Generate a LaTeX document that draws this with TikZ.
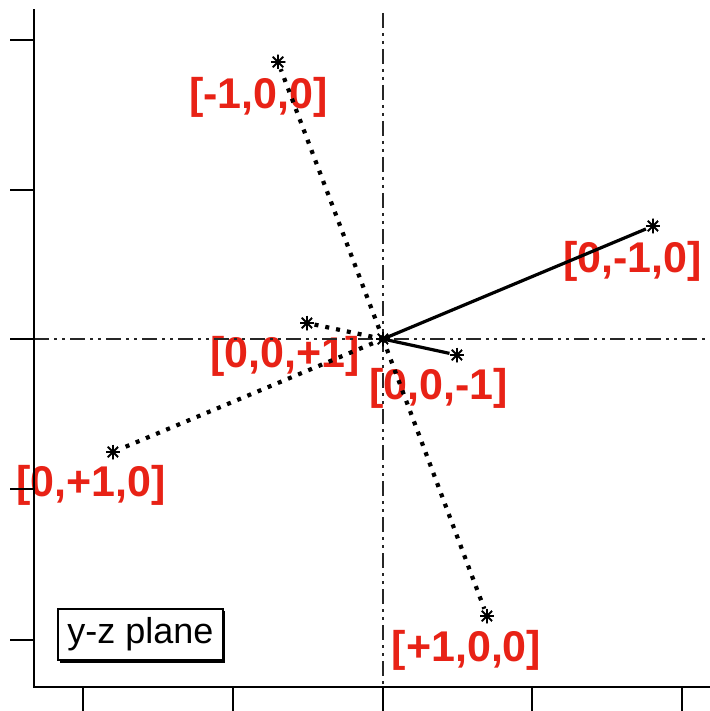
\documentclass[tikz,border=0pt]{standalone}
\usepackage{fontspec}
\setmainfont{Liberation Sans}
\definecolor{lblred}{RGB}{232,34,22}
\begin{document}
\begin{tikzpicture}[x=1pt,y=-1pt,
  axisline/.style={line width=2pt, line cap=rect},
  guide/.style={line width=1.8pt, black!85, dash pattern=on 15pt off 5pt on 3pt off 5pt on 3pt off 5pt},
  solidray/.style={line width=3.2pt},
  dotray/.style={line width=4.2pt, dash pattern=on 4pt off 7pt},
  lbl/.style={text=lblred, font=\fontsize{43}{43}\selectfont\bfseries, inner sep=0pt, anchor=base},
  starmark/.style={circle, inner sep=0pt, minimum size=15pt,
    path picture={\foreach \a in {0,45,90,135}{
      \draw[line width=1.8pt] ([shift={(\a:7.5pt)}]path picture bounding box.center) -- ([shift={(\a+180:7.5pt)}]path picture bounding box.center);}}},
  legendbox/.style={draw, line width=1.4pt, fill=white, minimum width=165pt, minimum height=51pt,
    font=\fontsize{36}{36}\selectfont, text height=27pt, text depth=9pt, inner sep=0pt}
]
\useasboundingbox (0,0) rectangle (709,711);
\fill[white] (0,0) rectangle (709,711);

% labels (drawn first, lines pass over them)
\node[lbl] (lm100) at (258.5,109) {[-1,0,0]};
\node[lbl] (lm010) at (632.5,272) {[0,-1,0]};
\node[lbl] (lp001) at (285,367) {[0,0,+1]};
\node[lbl] (lm001) at (438.5,399) {[0,0,-1]};
\node[lbl] (lp010) at (91,496) {[0,+1,0]};
\node[lbl] (lp100) at (466.5,661) {[+1,0,0]};

% guide lines through origin
\coordinate (gtop) at (383,13);
\coordinate (gbot) at (383,687);
\coordinate (gleft) at (34,339);
\coordinate (gright) at (709,339);
\draw[guide] (gtop) -- (gbot);
\draw[guide] (gleft) -- (gright);

% axes and ticks
\coordinate (atop) at (34,10);
\coordinate (acorner) at (34,687);
\coordinate (aright) at (709,687);
\draw[axisline] (atop) -- (acorner) -- (aright);
\foreach \yy in {40,190,339,489,640}{
  \coordinate (lt\yy) at (10,\yy);
  \coordinate (lb\yy) at (34,\yy);
  \draw[line width=2pt] (lt\yy) -- (lb\yy);}
\foreach \xx in {83,233,383,532,682}{
  \coordinate (bt\xx) at (\xx,687);
  \coordinate (bb\xx) at (\xx,711);
  \draw[line width=2pt] (bt\xx) -- (bb\xx);}

% points
\coordinate (O) at (383,339);
\node[starmark] (m100) at (278,62) {};
\node[starmark] (m010) at (653,226) {};
\node[starmark] (p001) at (307,323) {};
\node[starmark] (m001) at (457,355) {};
\node[starmark] (p010) at (113,452) {};
\node[starmark] (p100) at (487,616) {};
\node[starmark] (mo) at (383,339) {};

% rays
\draw[dotray] (O) -- (m100);
\draw[solidray] (O) -- (m010);
\draw[dotray] (O) -- (p001);
\draw[solidray] (O) -- (m001);
\draw[dotray] (O) -- (p010);
\draw[dotray] (O) -- (p100);

% legend box with shadow
\fill[black] (60,611) rectangle (225,663);
\node[legendbox] (legend) at (140.5,634.5) {y-z plane};
\end{tikzpicture}
\end{document}
